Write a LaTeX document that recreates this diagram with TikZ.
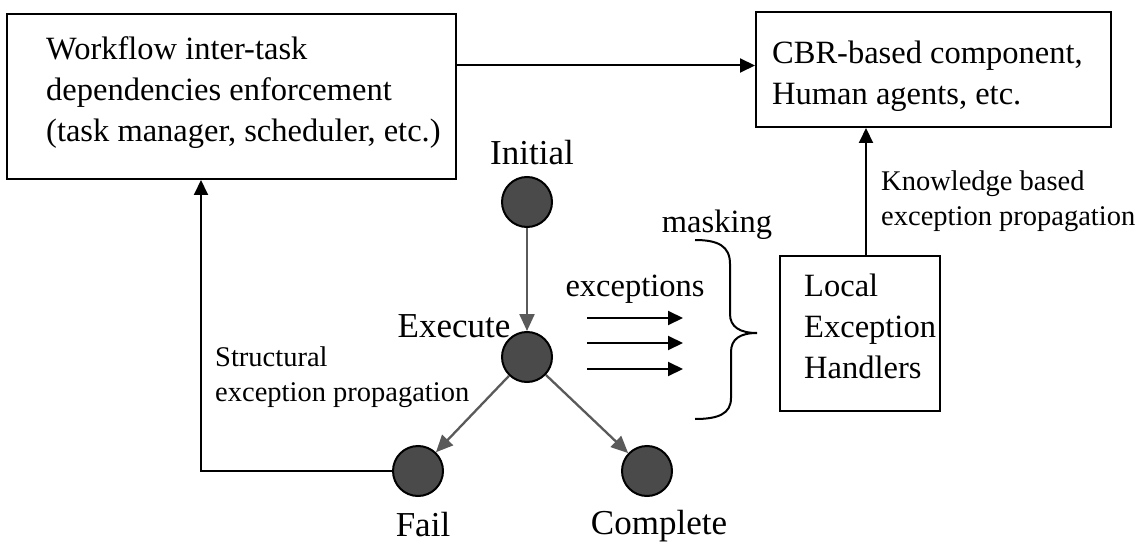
\documentclass[tikz,border=0pt]{standalone}
\usepackage{fontspec}
\setmainfont{Liberation Serif}
\usetikzlibrary{arrows.meta}
\definecolor{stategray}{HTML}{4A4A4A}
\definecolor{flowgray}{HTML}{5A5A5A}
\begin{document}
\begin{tikzpicture}[x=1pt,y=-1pt,
  box/.style={draw, line width=2pt, rectangle, inner sep=0pt},
  bigtext/.style={font=\fontsize{32.5}{41}\selectfont, inner sep=0pt, align=left},
  smalltext/.style={font=\fontsize{28.5}{35}\selectfont, inner sep=0pt, align=left},
  statetext/.style={font=\fontsize{35}{40}\selectfont, inner sep=0pt},
  state/.style={circle, draw=black, line width=2pt, fill=stategray, minimum size=50pt, inner sep=0pt},
  flow/.style={draw=flowgray, line width=2.3pt, -{Triangle[length=17pt,width=15pt]}},
  link/.style={draw=black, line width=2pt, -{Triangle[length=15pt,width=14pt]}},
]
\useasboundingbox (0,0) rectangle (1139,545);

% boxes
\node[box, minimum width=449pt, minimum height=165pt] (wf) at (231.5,96.5) {};
\node[bigtext, anchor=west] (wft) at (46,93) {Workflow inter-task\\dependencies enforcement\\(task manager, scheduler, etc.)};
\node[box, minimum width=355pt, minimum height=115pt] (cbr) at (933.5,69.5) {};
\node[bigtext, anchor=west] (cbrt) at (772,76) {CBR-based component,\\Human agents, etc.};
\node[box, minimum width=160pt, minimum height=155pt] (leh) at (860,333.5) {};
\node[bigtext, anchor=west] (leht) at (804,326) {Local\\Exception\\Handlers};

% states
\node[state] (init) at (527,202) {};
\node[state] (exec) at (527,357) {};
\node[state] (fail) at (418,471) {};
\node[state] (comp) at (647,471) {};
\node[statetext] (initl) at (532,153) {Initial};
\node[statetext] (execl) at (454,326) {Execute};
\node[statetext] (faill) at (423,525) {Fail};
\node[statetext] (compl) at (659,526) {Complete};

% other labels
\node[bigtext] (excl) at (635,289) {exceptions};
\node[bigtext] (maskl) at (717,225) {masking};
\node[smalltext, anchor=west] (structl) at (215,377) {Structural\\exception propagation};
\node[smalltext, anchor=west] (knowl) at (881,201) {Knowledge based\\exception propagation};

% flows
\draw[flow] (init) -- (exec);
\draw[flow] (exec) -- (fail);
\draw[flow] (exec) -- (comp);

% links
\draw[link] ([yshift=4pt]wf.east |- cbr.west) -- ([yshift=4pt]cbr.west);
\draw[link] ([xshift=6pt]leh.north) -- ([xshift=6pt]leh.north |- cbr.south);
\draw[link] (fail.west) -| ([xshift=-30.5pt]wf.south);

% exception arrows
\coordinate (e1s) at (587,318); \coordinate (e1e) at (683,318);
\coordinate (e2s) at (587,343); \coordinate (e2e) at (683,343);
\coordinate (e3s) at (587,369); \coordinate (e3e) at (683,369);
\draw[link] (e1s) -- (e1e);
\draw[link] (e2s) -- (e2e);
\draw[link] (e3s) -- (e3e);

% brace
\draw[line width=2pt] (695,240) .. controls (718,240) and (730,246) .. (730,264)
  -- (730,314) .. controls (730,327) and (740,333) .. (757,333)
  .. controls (740,333) and (731,339) .. (731,352)
  -- (731,398) .. controls (731,414) and (718,419) .. (695,419);
\end{tikzpicture}
\end{document}
